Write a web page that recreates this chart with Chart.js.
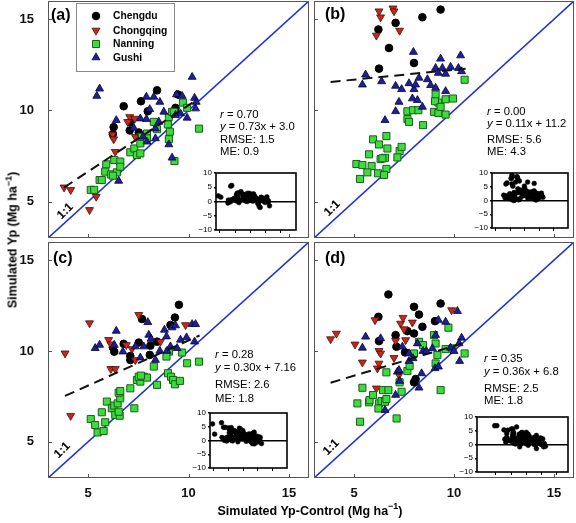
<!DOCTYPE html>
<html><head><meta charset="utf-8">
<script src="https://cdn.jsdelivr.net/npm/chart.js@4"></script>
<style>
body{margin:0;background:#fff;}
#wrap{position:relative;width:576px;height:523px;overflow:hidden;font-family:"Liberation Sans",Arial,sans-serif;background:#fff;}
canvas{position:absolute;}
.t{position:absolute;white-space:nowrap;color:#000;}
</style></head><body><div id="wrap"></div>
<script>
// ---------- data (x = Simulated Yp-Control, y = Simulated Yp), Mg/ha ----------
const seriesNames = ['Chengdu','Chongqing','Nanning','Gushi'];
const mainTicks = [5,10,15];
const insetYTicks = [-10,-5,0,5,10];
const insetXTicks = [4,6,8,10,12];

// Panel (a)
const chengduA = [[8.43,11.10],[7.63,10.50],[6.77,10.23],[7.97,9.95],[6.27,9.08],[7.07,8.90],[7.52,8.79],[9.47,10.87],[6.23,8.70],[7.10,9.34],[9.35,10.14]];
const chongqingA = [[3.80,5.78],[4.13,5.64],[5.07,4.54],[5.40,5.27],[6.22,8.68],[6.27,8.42],[7.07,9.64],[7.32,9.55],[6.97,9.37],[6.35,7.73],[7.35,8.55],[7.60,8.60]];
const nanningA = [[5.13,5.64],[5.30,5.64],[5.57,6.18],[5.68,6.18],[5.90,7.04],[6.30,7.28],[6.60,7.19],[5.85,6.64],[6.13,6.49],[6.43,6.60],[6.60,6.91],[6.23,6.42],[7.10,7.70],[7.30,7.91],[7.43,7.55],[7.60,8.19],[7.68,8.55],[7.93,8.73],[8.27,9.37],[8.43,8.97],[7.93,8.46],[9.02,9.64],[9.18,9.92],[9.27,9.92],[8.97,9.23],[9.72,10.43],[9.02,8.42],[9.07,8.83],[9.30,7.22],[10.52,9.00],[9.93,10.14],[7.60,7.64]];
const gushiA = [[5.57,11.19],[5.43,10.79],[6.40,9.46],[6.52,6.13],[7.90,10.74],[8.27,10.74],[8.07,10.06],[7.60,9.55],[7.90,9.52],[7.27,9.04],[7.73,8.55],[7.93,8.28],[8.57,10.46],[8.77,9.92],[9.40,10.87],[9.68,10.79],[10.30,10.68],[10.18,11.83],[9.18,7.40],[9.02,8.13],[8.35,8.46],[9.60,9.83],[9.93,9.59],[10.35,10.10],[10.38,10.46],[9.35,9.74],[8.35,9.00],[8.52,9.37]];
const fitA = [[3.8,5.77],[10.3,10.5]];
const statsA = ['0.70','0.73x + 3.0','1.5','0.9'];

// Panel (b)
const chengduB = [[9.33,15.53],[8.42,15.11],[7.08,14.80],[6.22,14.44],[6.75,13.42],[8.00,12.60],[6.25,12.29]];
const chongqingB = [[6.25,15.44],[6.95,15.60],[7.00,15.44],[6.33,15.11],[6.12,14.11],[7.28,14.38]];
const nanningB = [[10.53,11.68],[9.08,10.87],[9.22,10.43],[9.05,10.50],[9.58,10.61],[9.95,10.65],[9.00,9.92],[9.22,9.86],[9.58,9.77],[9.33,10.19],[7.67,9.95],[7.95,10.01],[8.22,10.01],[7.67,9.52],[7.75,9.37],[8.45,9.19],[5.95,8.41],[6.25,8.13],[6.62,8.59],[6.67,7.91],[5.75,7.59],[6.33,7.33],[6.55,7.40],[6.42,7.37],[7.28,7.77],[7.38,8.00],[7.17,7.42],[5.12,7.06],[5.42,7.00],[5.88,6.95],[5.67,6.60],[6.20,6.55],[6.62,6.79],[6.50,6.46],[5.30,6.24]];
const gushiB = [[5.58,11.96],[5.42,11.41],[6.38,11.59],[7.08,11.34],[7.38,11.16],[7.75,11.48],[8.00,11.16],[8.08,11.41],[7.92,10.65],[7.25,10.46],[7.08,9.95],[6.55,9.46],[7.97,13.20],[9.33,12.83],[10.33,13.01],[8.25,11.78],[8.67,11.70],[9.08,12.32],[9.42,12.32],[9.83,12.38],[10.22,12.32],[10.38,12.14],[8.83,11.38],[9.58,11.05],[9.08,11.23],[8.17,10.56],[8.42,10.19],[9.22,12.05],[9.58,12.00]];
const fitB = [[3.83,11.56],[10.58,12.29]];
const statsB = ['0.00','0.11x + 11.2','5.6','4.3'];

// Panel (c)
const chengduC = [[9.52,12.54],[9.32,11.84],[9.10,11.43],[7.68,11.76],[8.43,10.51],[8.10,10.29],[7.52,10.46],[6.77,10.39],[6.23,10.20],[6.30,9.96],[7.10,9.72],[7.10,9.50],[8.07,9.78]];
const chongqingC = [[3.85,9.87],[4.13,6.43],[5.07,11.53],[7.52,11.99],[9.85,11.43],[6.02,10.61],[6.13,10.37],[6.90,10.33],[7.18,10.11],[6.13,9.01],[6.35,9.01],[7.35,9.50],[8.60,10.51]];
const nanningC = [[5.13,6.25],[5.35,5.92],[5.47,5.51],[5.77,5.59],[5.85,6.07],[5.68,6.62],[5.93,7.21],[6.18,6.84],[6.30,6.99],[6.35,6.47],[6.57,6.43],[6.52,6.65],[6.47,7.11],[6.60,7.39],[6.52,7.70],[6.60,7.79],[7.30,6.84],[7.10,7.94],[7.43,8.40],[7.60,8.31],[7.52,8.58],[7.77,8.58],[7.93,8.53],[7.63,8.64],[8.27,9.14],[8.43,8.13],[8.98,8.77],[9.13,8.58],[9.23,8.40],[9.32,8.16],[9.57,8.35],[9.02,9.96],[9.68,9.91],[9.93,9.32],[10.52,9.41],[8.90,9.69]];
const gushiC = [[5.35,10.15],[5.57,10.33],[6.40,11.10],[6.30,10.33],[6.73,9.96],[7.35,10.24],[7.77,10.24],[7.97,11.58],[8.02,10.88],[8.13,10.66],[8.80,11.16],[8.90,10.79],[9.18,11.29],[9.35,11.40],[10.18,11.47],[10.35,11.47],[9.10,10.24],[9.60,10.61],[9.90,10.74],[10.30,10.51],[8.35,9.50],[8.57,10.00],[8.93,10.00],[7.60,9.63],[9.43,10.15]];
const fitC = [[3.85,7.52],[10.55,10.85]];
const statsC = ['0.28','0.30x + 7.16','2.6','1.8'];

// Panel (d)
const chengduD = [[6.72,13.11],[6.22,11.88],[8.00,12.43],[8.25,12.00],[9.33,12.61],[9.05,11.64],[8.42,11.33],[7.67,11.09],[8.00,10.96],[7.08,10.87],[6.25,10.54],[7.12,10.23],[7.55,9.92],[8.08,8.45],[8.00,8.27]];
const chongqingD = [[3.83,10.65],[4.12,10.96],[5.05,10.36],[5.42,9.37],[6.05,11.70],[6.25,10.00],[6.25,9.31],[6.33,9.86],[7.00,9.62],[6.17,9.04],[6.12,7.94],[7.08,10.56],[7.33,11.51],[7.50,11.20],[7.92,11.57],[7.45,11.83],[7.25,8.67],[9.88,12.25],[7.58,10.60]];
const nanningD = [[5.30,6.10],[7.13,6.28],[5.42,7.97],[5.17,7.11],[5.75,7.17],[5.78,7.29],[5.95,7.57],[6.25,7.11],[6.22,6.83],[6.38,7.24],[6.55,7.20],[6.45,7.84],[6.72,7.84],[6.62,7.35],[6.62,8.82],[7.28,8.27],[7.38,7.75],[7.67,8.89],[7.78,9.18],[8.00,9.86],[8.25,10.50],[8.45,10.32],[9.00,10.87],[9.08,10.41],[9.72,11.28],[9.08,9.31],[9.17,9.77],[9.33,7.84],[9.58,10.10],[9.92,10.14],[10.53,9.86]];
const gushiD = [[5.58,10.78],[5.42,10.17],[6.33,10.69],[6.55,6.74],[7.08,7.57],[7.17,8.85],[7.28,8.34],[7.42,10.23],[7.75,9.44],[7.95,9.59],[8.17,10.41],[7.75,9.86],[8.38,8.76],[8.45,9.99],[8.62,9.99],[8.25,7.97],[9.22,11.70],[9.58,11.60],[10.17,12.19],[9.08,10.87],[8.92,10.14],[9.05,9.04],[9.22,9.13],[9.83,10.17],[10.00,9.99],[10.28,9.44],[10.38,10.72],[10.25,10.41],[7.25,8.94]];
const fitD = [[3.83,8.25],[10.42,10.41]];
const statsD = ['0.35','0.36x + 6.8','2.5','1.8'];

const oneToOne = [[3,3],[16,16]];

// ---------- styling / layout ----------
const FONT = '"Liberation Sans", Arial, sans-serif';
const STY = {
  Chengdu:  {pointStyle:'circle',   radius:3.8, rotation:0,   bg:'#000000', border:'#000000', bw:1},
  Chongqing:{pointStyle:'triangle', radius:4.6, rotation:180, bg:'#c8281c', border:'#4a0c08', bw:0.8},
  Nanning:  {pointStyle:'rect',     radius:5.0, rotation:0,   bg:'#3ddc3d', border:'#1b5c1b', bw:1},
  Gushi:    {pointStyle:'triangle', radius:4.6, rotation:0,   bg:'#1f1f99', border:'#050530', bw:0.8}
};
const panels = [
  {key:'a', series:[chengduA,chongqingA,nanningA,gushiA], fit:fitA, stats:statsA,
   area:{l:48,t:1,r:309,b:238}, xLabels:false, yLabels:true, legend:true,
   inset:{l:216,t:173,r:296,b:230}, insetX:[3.5,14], statsPos:{x:220,y:[115,127,140,152]},
   tag:{x:51,y:14}, one:{x:65,y:211}},
  {key:'b', series:[chengduB,chongqingB,nanningB,gushiB], fit:fitB, stats:statsB,
   area:{l:314,t:1,r:574,b:238}, xLabels:false, yLabels:false,
   inset:{l:492,t:173,r:568,b:228}, insetX:[3.5,14], statsPos:{x:487,y:[112,124,140,152]},
   tag:{x:325,y:13}, one:{x:332,y:208}},
  {key:'c', series:[chengduC,chongqingC,nanningC,gushiC], fit:fitC, stats:statsC,
   area:{l:48,t:242,r:309,b:478}, xLabels:true, yLabels:true,
   inset:{l:210,t:413,r:287,b:468}, insetX:[3.5,14], statsPos:{x:215,y:[355,368,385,399]},
   tag:{x:53,y:257}, one:{x:62,y:450}},
  {key:'d', series:[chengduD,chongqingD,nanningD,gushiD], fit:fitD, stats:statsD,
   area:{l:314,t:242,r:574,b:478}, xLabels:true, yLabels:false,
   inset:{l:477,t:417,r:568,b:472}, insetX:[1.5,13.5], statsPos:{x:484,y:[359,372,389,401]},
   tag:{x:325,y:257}, one:{x:331,y:447}}
];

const wrap = document.getElementById('wrap');
const W = 576, H = 523;
const toXY = arr => arr.map(p => ({x:p[0], y:p[1]}));
const noPad = s => { s.paddingTop = 0; s.paddingBottom = 0; s.paddingLeft = 0; s.paddingRight = 0; };

function shape(ctx, st, x, y){
  ctx.save();
  ctx.fillStyle = st.bg; ctx.strokeStyle = st.border; ctx.lineWidth = st.bw;
  ctx.beginPath();
  if (st.pointStyle === 'circle') { ctx.arc(x, y, st.radius, 0, Math.PI*2); }
  else if (st.pointStyle === 'rect') { const s = Math.SQRT1_2*st.radius; ctx.rect(x-s, y-s, 2*s, 2*s); }
  else { const rr = st.radius, d = st.rotation ? -1 : 1;
    ctx.moveTo(x, y - d*rr);
    ctx.lineTo(x + rr*0.866, y + d*rr*0.5);
    ctx.lineTo(x - rr*0.866, y + d*rr*0.5); ctx.closePath(); }
  ctx.fill(); ctx.stroke(); ctx.restore();
}

const framePlugin = {
  id:'frame',
  afterDraw(chart){
    const {ctx, chartArea:a, scales} = chart;
    ctx.save();
    ctx.strokeStyle = '#555'; ctx.lineWidth = 1;
    ctx.strokeRect(a.left+0.5, a.top+0.5, a.right-a.left-1, a.bottom-a.top-1);
    ctx.beginPath();
    mainTicks.forEach(v => {
      const px = Math.round(scales.x.getPixelForValue(v))+0.5;
      ctx.moveTo(px, a.bottom); ctx.lineTo(px, a.bottom-4);
      const py = Math.round(scales.y.getPixelForValue(v))+0.5;
      ctx.moveTo(a.left, py); ctx.lineTo(a.left+4, py);
    });
    ctx.stroke();
    if (chart.options.plugins.frame && chart.options.plugins.frame.legend) {
      const bx = 76, by = 3, bw = 98, bh = 68;
      ctx.fillStyle = '#fff'; ctx.fillRect(bx, by, bw, bh);
      ctx.strokeStyle = '#888'; ctx.strokeRect(bx+0.5, by+0.5, bw, bh);
      const ys = [16, 30.5, 44, 57.5];
      ctx.font = 'bold 10.3px ' + FONT; ctx.textBaseline = 'middle'; ctx.fillStyle = '#000';
      seriesNames.forEach((n, i) => {
        shape(ctx, STY[n], 96, ys[i]);
        ctx.fillStyle = '#000'; ctx.fillText(n, 113, ys[i]+0.5);
      });
    }
    ctx.restore();
  }
};

function mainChart(p){
  const cv = document.createElement('canvas');
  cv.width = W; cv.height = H; cv.style.left = '0px'; cv.style.top = '0px';
  wrap.appendChild(cv);
  const yW = p.yLabels ? p.area.l : 0;
  const xH = p.xLabels ? 30 : 0;
  const datasets = [];
  datasets.push({type:'line', label:'fit', data:toXY(p.fit), borderColor:'#111', borderWidth:2,
    borderDash:[10,6], pointRadius:0, order:0, fill:false});
  seriesNames.forEach((n, i) => {
    const st = STY[n];
    datasets.push({type:'scatter', label:n, data:toXY(p.series[i]), pointStyle:st.pointStyle,
      pointRadius:st.radius, pointRotation:st.rotation, backgroundColor:st.bg,
      borderColor:st.border, borderWidth:st.bw, order:4-i});
  });
  datasets.push({type:'line', label:'1:1', data:toXY(oneToOne), borderColor:'#1d30d8', borderWidth:1.6,
    pointRadius:0, order:9, fill:false});
  const tickFont = {family:FONT, size:13, weight:'bold'};
  new Chart(cv, {
    type:'scatter',
    data:{datasets},
    options:{
      responsive:false, animation:false, events:[],
      layout:{autoPadding:false, padding:{left:p.area.l-yW, top:p.area.t, right:W-p.area.r, bottom:H-p.area.b-xH}},
      plugins:{legend:{display:false}, tooltip:{enabled:false}, frame:{legend:!!p.legend}},
      scales:{
        x:{type:'linear', min:3, max:16, position:'bottom', grid:{display:false}, border:{display:false},
           ticks:{display:p.xLabels, padding:0, font:tickFont, color:'#111', maxRotation:0},
           afterBuildTicks:s => { s.ticks = mainTicks.map(v => ({value:v})); },
           afterFit:s => { s.height = xH; noPad(s); }},
        y:{type:'linear', min:3, max:16, position:'left', grid:{display:false}, border:{display:false},
           ticks:{display:p.yLabels, padding:6, font:tickFont, color:'#111'},
           afterBuildTicks:s => { s.ticks = mainTicks.map(v => ({value:v})); },
           afterFit:s => { s.width = yW; noPad(s); }}
      }
    },
    plugins:[framePlugin]
  });
}

const insetPlugin = {
  id:'insetFrame',
  beforeDraw(chart){
    const {ctx, chartArea:a} = chart;
    ctx.save(); ctx.fillStyle = '#fff'; ctx.fillRect(a.left, a.top, a.right-a.left, a.bottom-a.top); ctx.restore();
  },
  afterDraw(chart){
    const {ctx, chartArea:a} = chart;
    ctx.save(); ctx.strokeStyle = '#000'; ctx.lineWidth = 1.6;
    ctx.strokeRect(a.left, a.top, a.right-a.left, a.bottom-a.top); ctx.restore();
  }
};

function insetChart(p){
  const a = p.inset, LW = 20, T = 3, R = 3, B = 6;
  const cv = document.createElement('canvas');
  cv.width = (a.r-a.l)+LW+R; cv.height = (a.b-a.t)+T+B;
  cv.style.left = (a.l-LW)+'px'; cv.style.top = (a.t-T)+'px';
  wrap.appendChild(cv);
  // residuals (Simulated Yp − Simulated Yp-Control) of the same points
  const pts = [];
  p.series.forEach(s => s.forEach(q => pts.push({x:q[0], y:q[1]-q[0]})));
  new Chart(cv, {
    type:'scatter',
    data:{datasets:[{data:pts, pointRadius:2.4, backgroundColor:'#000', borderColor:'#000', borderWidth:0.5, clip:0}]},
    options:{
      responsive:false, animation:false, events:[],
      layout:{autoPadding:false, padding:{left:0, top:T, right:R, bottom:B-3}},
      plugins:{legend:{display:false}, tooltip:{enabled:false}},
      scales:{
        x:{type:'linear', min:p.insetX[0], max:p.insetX[1], border:{display:false},
           grid:{display:true, drawOnChartArea:false, drawTicks:true, tickLength:3, tickColor:'#000', color:'#000'},
           ticks:{display:false},
           afterBuildTicks:s => { s.ticks = insetXTicks.map(v => ({value:v})); },
           afterFit:s => { s.height = 3; noPad(s); }},
        y:{type:'linear', min:-10, max:10, border:{display:false},
           grid:{display:true, drawTicks:true, tickLength:2, tickColor:'#000', lineWidth:1.5,
                 color:c => (c.tick && c.tick.value === 0) ? '#000' : 'rgba(0,0,0,0)'},
           ticks:{padding:2, font:{family:FONT, size:8}, color:'#000',
                  callback:v => v < 0 ? '\u2212' + (-v) : String(v)},
           afterBuildTicks:s => { s.ticks = insetYTicks.map(v => ({value:v})); },
           afterFit:s => { s.width = LW; noPad(s); }}
      }
    },
    plugins:[insetPlugin]
  });
}

function txt(html, x, cy, size, opts){
  opts = opts || {};
  const d = document.createElement('div');
  d.className = 't'; d.innerHTML = html;
  d.style.fontSize = size+'px'; d.style.lineHeight = (size*1.2)+'px';
  if (opts.bold) d.style.fontWeight = 'bold';
  if (opts.center) {
    d.style.left = x+'px'; d.style.top = cy+'px';
    d.style.transform = 'translate(-50%,-50%)' + (opts.rot ? ' rotate('+opts.rot+'deg)' : '');
  } else {
    d.style.left = x+'px'; d.style.top = (cy - size*0.59)+'px';
  }
  wrap.appendChild(d);
}

panels.forEach(p => { mainChart(p); });
panels.forEach(p => { insetChart(p); });
panels.forEach(p => {
  const s = p.stats, sp = p.statsPos;
  txt('<i>r</i> = ' + s[0], sp.x, sp.y[0], 11.3);
  txt('<i>y</i> = ' + s[1], sp.x, sp.y[1], 11.3);
  txt('RMSE: ' + s[2], sp.x, sp.y[2], 11.3);
  txt('ME: ' + s[3], sp.x, sp.y[3], 11.3);
  txt('(' + p.key + ')', p.tag.x, p.tag.y, 16, {bold:true});
  txt('1:1', p.one.x, p.one.y, 12, {bold:true, center:true, rot:-45});
});
txt('Simulated Yp (Mg ha<sup style="font-size:9px;line-height:0">\u22121</sup>)', 13, 240, 12.5, {bold:true, center:true, rot:-90});
txt('Simulated Yp-Control (Mg ha<sup style="font-size:9px;line-height:0">\u22121</sup>)', 310, 511, 12.5, {bold:true, center:true});
</script>
</body></html>
